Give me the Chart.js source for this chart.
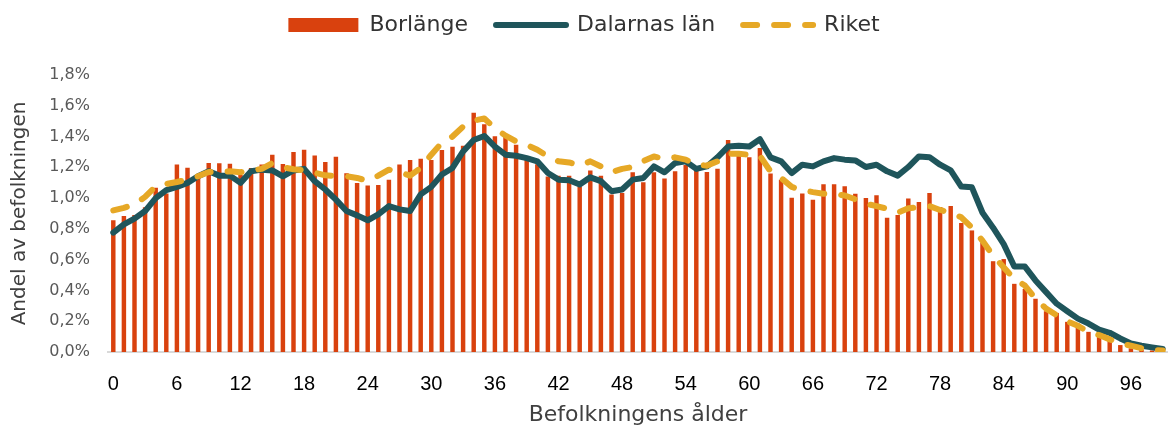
<!DOCTYPE html>
<html>
<head>
<meta charset="utf-8">
<script src="https://cdn.jsdelivr.net/npm/chart.js@4.4.1/dist/chart.umd.min.js"></script>
<style>
  html, body { margin: 0; padding: 0; background: #fff; }
  #wrap { width: 1168px; height: 430px; }
</style>
</head>
<body>
<div id="wrap"><canvas id="ageChart"></canvas></div>
<script>
// Ages 0..99 (category axis)
const ages = [
  0, 1, 2, 3, 4, 5, 6, 7, 8, 9, 10, 11, 12, 13, 14, 15, 16, 17, 18, 19,
  20, 21, 22, 23, 24, 25, 26, 27, 28, 29, 30, 31, 32, 33, 34, 35, 36, 37, 38, 39,
  40, 41, 42, 43, 44, 45, 46, 47, 48, 49, 50, 51, 52, 53, 54, 55, 56, 57, 58, 59,
  60, 61, 62, 63, 64, 65, 66, 67, 68, 69, 70, 71, 72, 73, 74, 75, 76, 77, 78, 79,
  80, 81, 82, 83, 84, 85, 86, 87, 88, 89, 90, 91, 92, 93, 94, 95, 96, 97, 98, 99
];

const xTickLabels = ["0", "6", "12", "18", "24", "30", "36", "42", "48", "54", "60", "66", "72", "78", "84", "90", "96"];

// Share of population (%) per age
const borlange = [
  0.856, 0.884, 0.89, 0.94, 1.067, 1.03, 1.219, 1.198, 1.15, 1.228,
  1.226, 1.224, 1.15, 1.196, 1.219, 1.282, 1.221, 1.299, 1.314, 1.277,
  1.234, 1.269, 1.161, 1.099, 1.082, 1.086, 1.12, 1.219, 1.247, 1.256,
  1.247, 1.312, 1.333, 1.34, 1.555, 1.48, 1.402, 1.409, 1.346, 1.27,
  1.22, 1.14, 1.146, 1.146, 1.075, 1.18, 1.146, 1.024, 1.034, 1.168,
  1.103, 1.168, 1.127, 1.174, 1.215, 1.18, 1.17, 1.19, 1.378, 1.30,
  1.265, 1.325, 1.16, 1.12, 1.002, 1.03, 0.99, 1.09, 1.09, 1.077,
  1.028, 1.0, 1.019, 0.873, 0.89, 0.998, 0.974, 1.034, 0.942, 0.948,
  0.838, 0.79, 0.712, 0.59, 0.604, 0.443, 0.41, 0.346, 0.265, 0.254,
  0.196, 0.185, 0.131, 0.10, 0.09, 0.045, 0.024, 0.015, 0.01, 0.005
];

const dalarna = [
  0.776, 0.83, 0.867, 0.916, 1.0, 1.052, 1.073, 1.099, 1.142, 1.174,
  1.146, 1.146, 1.099, 1.174, 1.185, 1.18, 1.142, 1.18, 1.19, 1.11,
  1.056, 0.99, 0.916, 0.888, 0.856, 0.895, 0.948, 0.927, 0.916, 1.024,
  1.073, 1.153, 1.196, 1.303, 1.378, 1.404, 1.335, 1.282, 1.275, 1.26,
  1.239, 1.163, 1.12, 1.116, 1.088, 1.135, 1.11, 1.045, 1.056, 1.12,
  1.131, 1.206, 1.168, 1.228, 1.239, 1.19, 1.206, 1.265, 1.335, 1.34,
  1.335, 1.383, 1.265, 1.239, 1.163, 1.217, 1.206, 1.239, 1.26, 1.25,
  1.245, 1.202, 1.217, 1.174, 1.146, 1.202, 1.271, 1.266, 1.217, 1.18,
  1.075, 1.07, 0.905, 0.808, 0.701, 0.555, 0.555, 0.465, 0.389, 0.314,
  0.265, 0.217, 0.185, 0.146, 0.125, 0.088, 0.056, 0.041, 0.03, 0.02
];

const riket = [
  0.92, 0.937, 0.96, 1.008, 1.077, 1.092, 1.105, 1.12, 1.142, 1.17,
  1.168, 1.174, 1.168, 1.18, 1.19, 1.228, 1.2, 1.188, 1.18, 1.165,
  1.148, 1.142, 1.142, 1.131, 1.112, 1.146, 1.185, 1.168, 1.146, 1.196,
  1.282, 1.361, 1.4, 1.465, 1.503, 1.518, 1.454, 1.406, 1.368, 1.346,
  1.314, 1.271, 1.239, 1.232, 1.211, 1.239, 1.206, 1.168, 1.19, 1.202,
  1.24, 1.271, 1.254, 1.265, 1.25, 1.217, 1.211, 1.239, 1.288, 1.288,
  1.282, 1.275, 1.174, 1.131, 1.073, 1.052, 1.039, 1.028, 1.028, 1.017,
  0.992, 0.963, 0.948, 0.931, 0.905, 0.934, 0.942, 0.948, 0.923, 0.905,
  0.875, 0.808, 0.723, 0.626, 0.55, 0.475, 0.432, 0.346, 0.282, 0.239,
  0.2, 0.17, 0.131, 0.11, 0.082, 0.056, 0.041, 0.024, 0.013, 0.01
];

const RED = "#d9410e";
const TEAL = "#1f555b";
const GOLD = "#e6a826";
const textFont = "'DejaVu Sans', 'Open Sans', sans-serif";

// push the plot down below the legend
const legendSpacer = {
  id: "legendSpacer",
  beforeInit(chart) {
    if (!chart.legend) return;
    const origFit = chart.legend.fit;
    chart.legend.fit = function () {
      origFit.bind(chart.legend)();
      this.height += 29;
    };
  }
};

new Chart(document.getElementById("ageChart"), {
  type: "bar",
  data: {
    labels: ages,
    datasets: [
      {
        label: "Borlänge",
        data: borlange,
        backgroundColor: RED,
        barPercentage: 0.42,
        categoryPercentage: 1,
        order: 3
      },
      {
        type: "line",
        label: "Dalarnas län",
        data: dalarna,
        borderColor: TEAL,
        borderWidth: 6,
        borderJoinStyle: "round",
        borderCapStyle: "round",
        pointRadius: 0,
        tension: 0,
        order: 2
      },
      {
        type: "line",
        label: "Riket",
        data: riket,
        borderColor: GOLD,
        borderWidth: 6,
        borderDash: [14, 17],
        borderCapStyle: "round",
        borderJoinStyle: "round",
        pointRadius: 0,
        tension: 0,
        order: 1
      }
    ]
  },
  options: {
    responsive: true,
    maintainAspectRatio: false,
    animation: false,
    layout: { autoPadding: false, padding: { top: -14, right: 0, left: 0, bottom: 0 } },
    plugins: {
      tooltip: { enabled: false },
      legend: {
        position: "top",
        labels: {
          usePointStyle: true,
          pointStyleWidth: 70,
          boxHeight: 14,
          padding: 28,
          color: "#333",
          font: { family: textFont, size: 22 },
          generateLabels(chart) {
            return chart.data.datasets.map((ds, i) => ({
              text: ds.label,
              datasetIndex: i,
              fillStyle: ds.type === "line" ? ds.borderColor : ds.backgroundColor,
              strokeStyle: ds.type === "line" ? ds.borderColor : ds.backgroundColor,
              lineWidth: ds.type === "line" ? 6 : 0,
              lineDash: ds.borderDash || [],
              lineCap: "round",
              pointStyle: ds.type === "line" ? "line" : "rect",
              fontColor: "#333",
              hidden: false
            }));
          }
        }
      }
    },
    scales: {
      x: {
        grid: { display: false, drawTicks: false },
        border: { display: true, color: "#d9d9d9", width: 2 },
        ticks: {
          autoSkip: false,
          maxRotation: 0,
          padding: 20,
          color: "#000",
          font: { family: "'Liberation Sans Narrow', 'Liberation Sans', Arial, sans-serif", size: 20 },
          callback: function (value) {
            const lbl = String(this.getLabelForValue(value));
            return xTickLabels.includes(lbl) ? lbl : "";
          }
        },
        title: {
          display: true,
          text: "Befolkningens ålder",
          color: "#404040",
          font: { family: textFont, size: 22 },
          padding: { top: 0, bottom: 2 }
        },
        afterFit(scale) {
          scale.height = 78;
          scale.paddingLeft = 0;
          scale.paddingRight = 0;
        }
      },
      y: {
        min: 0,
        max: 1.8,
        grid: { display: false, drawTicks: false },
        border: { display: false },
        ticks: {
          stepSize: 0.2,
          padding: 18,
          color: "#595959",
          font: { family: textFont, size: 16 },
          callback: v => v.toFixed(1).replace(".", ",") + "%"
        },
        title: {
          display: true,
          text: "Andel av befolkningen",
          color: "#404040",
          font: { family: textFont, size: 20 },
          padding: { top: 8, bottom: 0 }
        },
        afterFit(scale) { scale.width = 108; }
      }
    }
  },
  plugins: [legendSpacer]
});
</script>
</body>
</html>
